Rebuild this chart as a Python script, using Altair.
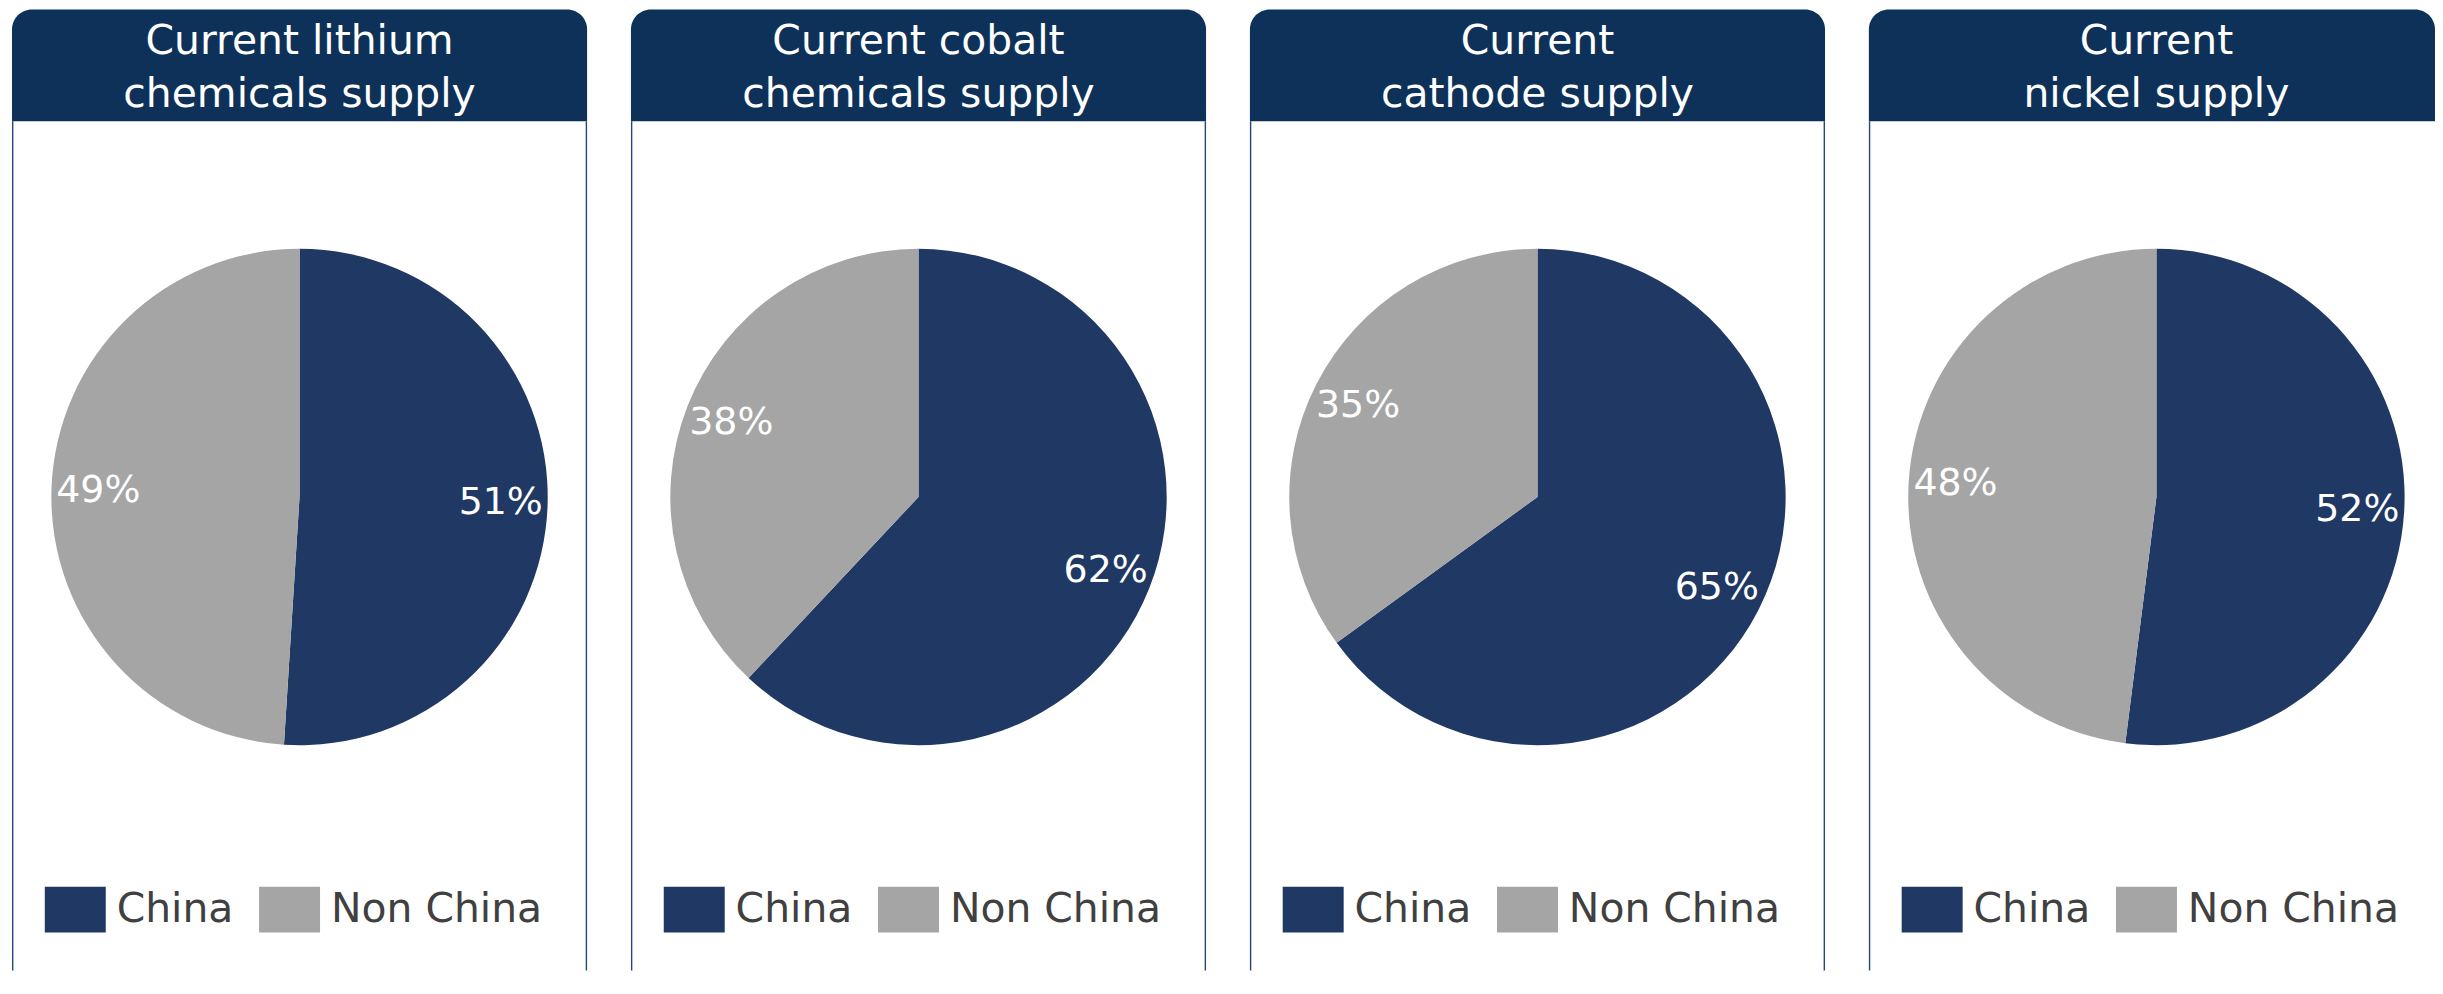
import altair as alt
import pandas as pd

# ---- data -------------------------------------------------------------
TITLES = [
    ["Current lithium", "chemicals supply"],
    ["Current cobalt", "chemicals supply"],
    ["Current", "cathode supply"],
    ["Current", "nickel supply"],
]
CATEGORIES = ["China", "Non China"]
CHINA_SHARE = [51, 62, 65, 52]
NON_CHINA_SHARE = [49, 38, 35, 48]
COLORS = ["#203864", "#a5a5a5"]

# ---- style ------------------------------------------------------------
HEADER = "#0e3159"
BORDER = "#24477a"
FONT = "DejaVu Sans"

W = 577
W_LAST = 568
H = 964
HEADER_H = 112
CX = 288.5
CY = 489
R = 249
LABEL_R = 202
RECT_PATH = "M-1.33,-1L1.33,-1L1.33,1L-1.33,1Z"


def panel(i, width, right_border=True):
    df = pd.DataFrame({
        "cat": CATEGORIES,
        "val": [CHINA_SHARE[i], NON_CHINA_SHARE[i]],
        "ord": [0, 1],
    })
    df["label"] = df["val"].astype(str) + "%"
    one = pd.DataFrame({"k": [0]})

    header = alt.Chart(one).mark_rect(
        color=HEADER, cornerRadiusTopLeft=20, cornerRadiusTopRight=20
    ).encode(x=alt.value(0), x2=alt.value(width), y=alt.value(0), y2=alt.value(HEADER_H))

    title = alt.Chart(one).mark_text(
        text=TITLES[i], font=FONT, fontSize=41, color="white", lineHeight=53,
        align="center", baseline="alphabetic"
    ).encode(x=alt.value(CX), y=alt.value(45))

    layers = [header, title]
    layers.append(
        alt.Chart(one).mark_rule(color=BORDER, strokeWidth=1.4).encode(
            x=alt.value(0.7), y=alt.value(HEADER_H), y2=alt.value(H))
    )
    if right_border:
        layers.append(
            alt.Chart(one).mark_rule(color=BORDER, strokeWidth=1.4).encode(
                x=alt.value(width - 0.7), y=alt.value(HEADER_H), y2=alt.value(H))
        )

    base = alt.Chart(df).encode(
        theta=alt.Theta("val:Q", stack=True),
        order=alt.Order("ord:Q"),
    )
    pie = base.mark_arc(radius=R).encode(
        color=alt.Color(
            "cat:N",
            scale=alt.Scale(domain=CATEGORIES, range=COLORS),
            legend=alt.Legend(
                title=None, orient="none", legendX=40.5, legendY=880,
                direction="horizontal", symbolType=RECT_PATH, symbolSize=2116,
                symbolStrokeWidth=0, symbolOpacity=1,
                labelFont=FONT, labelFontSize=41, labelColor="#404040",
                labelOffset=18.5, columnPadding=25, labelLimit=400,
            ),
        ),
        x=alt.value(CX), y=alt.value(CY),
    )
    labels = base.mark_text(
        radius=LABEL_R, font=FONT, fontSize=38, color="white",
        align="center", baseline="middle"
    ).encode(text="label:N", detail="cat:N", x=alt.value(CX), y=alt.value(CY))

    layers += [pie, labels]
    return alt.layer(*layers).properties(width=width, height=H)


panels = [panel(0, W), panel(1, W), panel(2, W), panel(3, W_LAST, right_border=False)]

chart = alt.hconcat(*panels, spacing=44, bounds="flush").resolve_scale(
    color="independent", theta="independent"
).resolve_legend(color="independent").properties(
    padding={"left": 4, "top": 0, "right": 0, "bottom": 0},
    background="white",
).configure_view(stroke=None)

chart.save("out.html", embed_options={"renderer": "svg", "actions": False})
